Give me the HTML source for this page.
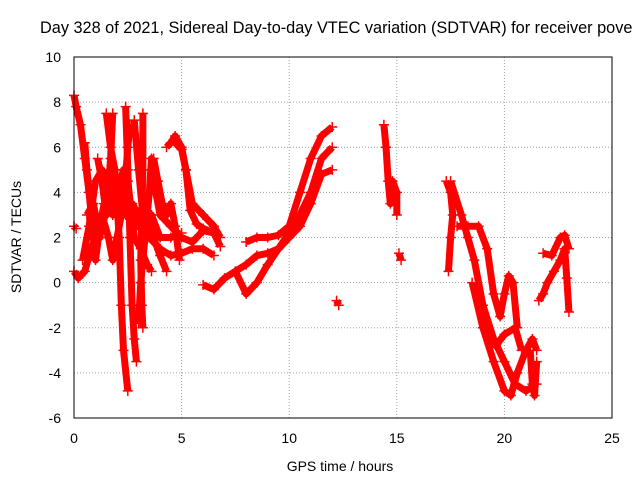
<!DOCTYPE html>
<html><head><meta charset="utf-8"><style>
body{margin:0;background:#fff;}
svg{display:block;font-family:"Liberation Sans",sans-serif;}
</style></head><body>
<svg id="chart" width="640" height="480" viewBox="0 0 640 480" xmlns="http://www.w3.org/2000/svg">
<rect width="640" height="480" fill="#fff"/>
<text x="40" y="33" font-size="16.3" fill="#000">Day 328 of 2021, Sidereal Day-to-day VTEC variation (SDTVAR) for receiver pove</text>
<g id="grid"></g>
<g id="ticks"></g>
<g id="series"></g>
<rect x="74" y="57" width="538" height="361" fill="none" stroke="#000" stroke-width="1"/>
<text x="340" y="471" font-size="14" text-anchor="middle">GPS time / hours</text>
<text transform="translate(21,237) rotate(-90)" font-size="14" text-anchor="middle">SDTVAR / TECUs</text>
</svg>
<script>
const xTicks=[0,5,10,15,20,25];
const yTicks=[-6,-4,-2,0,2,4,6,8,10];
const tracks=[
[[0,8.3],[0.1,7.8],[0.3,7],[0.5,5.5],[0.7,4],[1,3],[1.3,2.5],[1.6,3.5],[2,4],[2.3,5],[2.6,3],[3,2.5],[3.5,2],[4,1.5],[4.5,1.2],[5,1.3],[5.5,1.5],[6,1.5],[6.5,1.2]],
[[0,0.5],[0.2,0.2],[0.5,0.5],[0.8,1.5],[1,2],[1.3,3],[1.6,2],[1.8,1],[2,2],[2.3,3.5],[2.5,6],[2.6,7]],
[[0,2.5],[0.1,2.4]],
[[0.5,6.2],[0.6,5],[0.8,3],[1,1],[1.2,2.5],[1.4,3.5]],
[[0.6,3],[0.9,3.5],[1.2,2],[1.5,4],[1.8,3],[2.1,4],[2.4,3],[2.7,3.5],[3,3],[3.3,2.5],[3.6,3],[4,2],[4.5,2],[5,2.2]],
[[0.4,1],[0.7,2.5],[1,4.5],[1.3,5],[1.6,4.5],[1.9,3.5],[2.2,4],[2.5,4.5],[2.8,2],[3.1,1.5],[3.4,0.8],[3.6,0.5]],
[[1.1,5.5],[1.3,4.5],[1.5,3],[1.7,5.5],[1.8,7.5]],
[[1.5,7.5],[1.7,6],[1.9,5],[2.1,2],[2.2,-1],[2.3,-3],[2.5,-4.8]],
[[2.4,7.8],[2.5,5],[2.6,2],[2.7,-1],[2.8,-2.5],[2.9,-3.5]],
[[3.2,7.5],[3.2,5],[3.15,3],[3.1,1],[3.15,-1],[3.2,-2]],
[[3,-1.8],[3.1,0],[3.3,2],[3.5,4],[3.6,5.5],[3.8,4],[4,3],[4.5,2.5],[5,2],[5.5,1.8],[6,2.3],[6.5,2.2]],
[[2.8,7.2],[3,5],[3.2,3],[3.5,2.5],[4,1.2],[4.3,0.5]],
[[3.7,5.5],[3.9,4.5],[4.1,3.5],[4.3,3],[4.5,3.5],[4.7,2.5],[4.9,1]],
[[4.3,6],[4.6,6.3],[5,5.9],[5.2,5],[5.4,3.2],[5.7,2.6],[6,2.4],[6.5,2.2],[6.8,1.6]],
[[4.5,6.2],[4.7,6.5],[5,6],[5.2,5],[5.5,3.5],[6,3],[6.5,2.5],[6.8,2]],
[[6,-0.1],[6.5,-0.3],[7,0.2],[7.5,0.5],[8,0.8],[8.5,1.2],[9,1.3],[9.5,1.5],[10,2],[10.5,2.5],[11,3.5],[11.5,4.8],[12,5]],
[[7.5,0.5],[8,-0.5],[8.5,0],[9,0.8],[9.5,1.5],[10,2.2],[10.5,3],[11,4],[11.5,5.5],[12,6]],
[[8,1.8],[8.5,2],[9,2],[9.5,2.1],[10,2.5],[10.5,4],[11,5.5],[11.5,6.5],[12,6.9]],
[[12.2,-0.8],[12.3,-1]],
[[14.4,7],[14.5,6],[14.6,4.5],[14.7,3.5],[14.8,4.5],[15,4],[15,3]],
[[15.1,1.3],[15.2,1]],
[[17.3,4.5],[17.5,4],[17.6,3],[17.5,2],[17.4,0.5]],
[[17.5,4.5],[18,3],[18.3,2],[18.6,1],[19,-1],[19.5,-2.5],[20,-3.5],[20.5,-4.5],[21,-4.8],[21.5,-4.5]],
[[17.8,2.5],[18.3,2.5],[18.8,2.5],[19.2,1.5],[19.5,-0.5],[19.8,-1.5],[20,-0.5],[20.2,0.3],[20.4,0],[20.6,-2]],
[[18.5,0],[19,-2],[19.5,-3.5],[20,-4.8],[20.3,-5],[20.6,-4],[21,-3],[21.3,-2.5],[21.5,-3]],
[[21.2,-3],[21.3,-4.5],[21.4,-5],[21.5,-3.5]],
[[19.2,-2],[19.6,-2.8],[20,-2.3],[20.5,-2],[20.8,-3]],
[[21.6,-0.8],[21.8,-0.5],[22,0],[22.3,0.5],[22.6,1],[22.8,1.5],[22.9,0.2],[23,-1.3]],
[[21.8,1.3],[22.2,1.2],[22.6,2],[22.8,2.1],[23,1.5]]
];
const NS="http://www.w3.org/2000/svg";
const X0=74,X1=612,Y0=418,Y1=57;
function sx(v){return X0+(v-0)/(25-0)*(X1-X0);}
function sy(v){return Y0-(v+6)/(16)*(Y0-Y1);}
const grid=document.getElementById('grid'),ticks=document.getElementById('ticks'),series=document.getElementById('series');
xTicks.forEach(t=>{
 const l=document.createElementNS(NS,'line');
 
 
 l.setAttribute('x1',sx(t));l.setAttribute('x2',sx(t));l.setAttribute('y1',Y1);l.setAttribute('y2',Y0);
 l.setAttribute('stroke','#a0a0a0');l.setAttribute('stroke-dasharray','1,2');grid.appendChild(l);
 const tx=document.createElementNS(NS,'text');
 
 
 tx.setAttribute('x',sx(t));tx.setAttribute('y',443);tx.setAttribute('font-size','14');tx.setAttribute('text-anchor','middle');
 tx.textContent=t;ticks.appendChild(tx);
});
yTicks.forEach(t=>{
 const l=document.createElementNS(NS,'line');
 
 
 l.setAttribute('x1',X0);l.setAttribute('x2',X1);l.setAttribute('y1',sy(t));l.setAttribute('y2',sy(t));
 l.setAttribute('stroke','#a0a0a0');l.setAttribute('stroke-dasharray','1,2');grid.appendChild(l);
 const tx=document.createElementNS(NS,'text');
 
 
 tx.setAttribute('x',61);tx.setAttribute('y',sy(t)+5);tx.setAttribute('font-size','14');tx.setAttribute('text-anchor','end');
 tx.textContent=t;ticks.appendChild(tx);
});
tracks.forEach(tr=>{
 const p=document.createElementNS(NS,'polyline');
 
 
 p.setAttribute('points',tr.map(d=>sx(d[0])+','+sy(d[1])).join(' '));
 p.setAttribute('fill','none');p.setAttribute('stroke','#f00');p.setAttribute('stroke-width','7');p.setAttribute('stroke-linejoin','round');
 series.appendChild(p);
 tr.forEach(d=>{
  const m=document.createElementNS(NS,'path');
  
  
  const x=sx(d[0]),y=sy(d[1]);
  m.setAttribute('d',`M${x-5},${y}H${x+5}M${x},${y-5}V${y+5}`);
  m.setAttribute('stroke','#f00');m.setAttribute('stroke-width','1.5');
  series.appendChild(m);
 });
});
</script>
</body></html>
